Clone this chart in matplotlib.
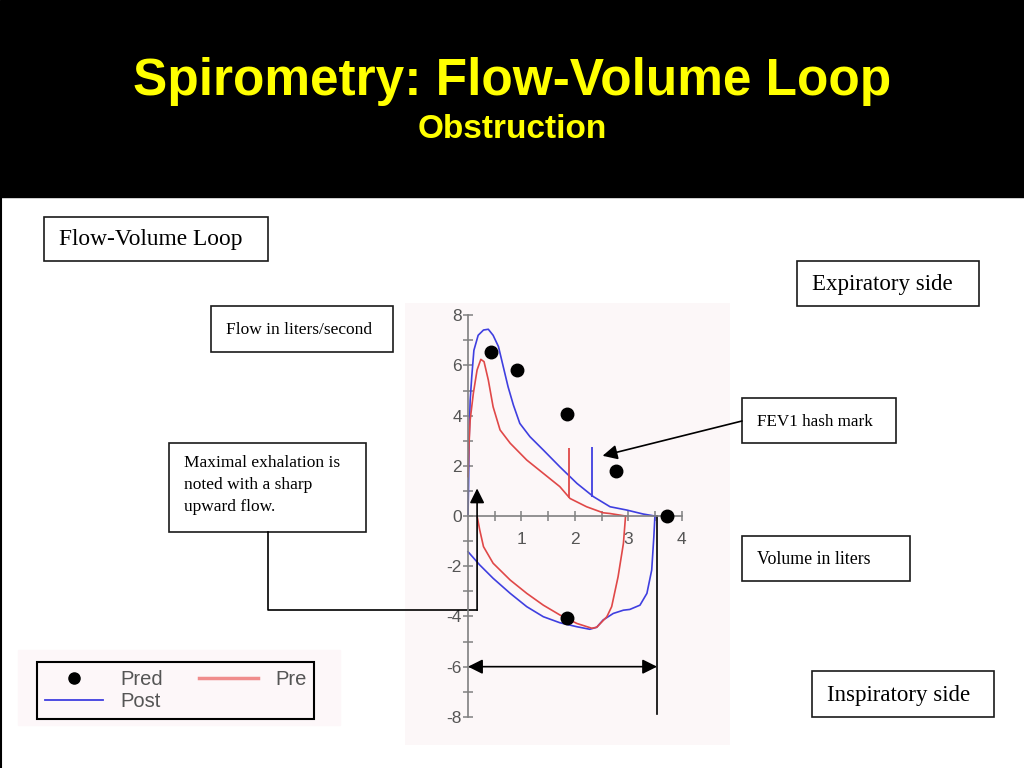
import matplotlib
matplotlib.use('Agg')
import matplotlib.pyplot as plt
from matplotlib.patches import Rectangle
from matplotlib.lines import Line2D

plt.rcParams['axes.unicode_minus'] = False
plt.rcParams['font.family'] = ['Liberation Sans', 'DejaVu Sans']

# ---- data (volume in L, flow in L/s) ----
post_exp_vol = [0, 0.01, 0.02, 0.04, 0.07, 0.11, 0.19, 0.29, 0.38, 0.47, 0.57, 0.66, 0.75, 0.85, 0.97,
                1.16, 1.41, 1.72, 2.04, 2.35, 2.66, 2.97, 3.28, 3.5]
post_exp_flow = [0, 1.2, 3.0, 4.6, 5.55, 6.6, 7.2, 7.41, 7.44, 7.2, 6.75, 5.95, 5.15, 4.42, 3.69,
                 3.16, 2.63, 1.96, 1.3, 0.77, 0.37, 0.24, 0.08, 0]
post_insp_vol = [3.5, 3.48, 3.44, 3.35, 3.22, 3.03, 2.91, 2.72, 2.53, 2.41, 2.28, 2.04, 1.72, 1.41,
                 1.1, 0.79, 0.47, 0.22, 0]
post_insp_flow = [0, -0.82, -2.15, -3.08, -3.55, -3.72, -3.75, -3.88, -4.14, -4.43, -4.51, -4.41,
                  -4.25, -4.01, -3.61, -3.08, -2.48, -1.95, -1.42]

pre_exp_vol = [0, 0.02, 0.04, 0.1, 0.17, 0.24, 0.3, 0.38, 0.47, 0.6, 0.79, 1.1, 1.41, 1.72, 1.91,
               2.22, 2.53, 2.66, 2.95]
pre_exp_flow = [1.57, 2.9, 3.82, 4.89, 5.82, 6.24, 6.15, 5.42, 4.35, 3.43, 2.9, 2.23, 1.7, 1.17, 0.7,
                0.37, 0.13, 0.1, 0]
pre_insp_vol = [2.95, 2.91, 2.81, 2.69, 2.6, 2.41, 2.32, 2.04, 1.72, 1.41, 1.1, 0.79, 0.47, 0.29,
                0.22, 0.17]
pre_insp_flow = [0, -1.09, -2.42, -3.61, -4.01, -4.43, -4.47, -4.28, -3.94, -3.55, -3.08, -2.55,
                 -1.88, -1.22, -0.56, 0]

pred_vol = [0.43, 0.91, 1.85, 2.78, 3.72, 1.85]
pred_flow = [6.55, 5.82, 4.06, 1.8, 0, -4.08]

fev1_vol = [1.9, 2.33]           # pre, post hash marks
fev1_low = [0.7, 0.77]
fev1_high = [2.7, 2.76]
fvc = 3.54
exhale_x = 0.17

y_ticks = list(range(-8, 9, 2))
x_ticks = [1, 2, 3, 4]

blue = '#3f3fe0'
red = '#e04848'
grey = '#808080'

fig = plt.figure(figsize=(10.24, 7.68), dpi=100)
fig.patch.set_facecolor('white')

# ---- overlay in pixel coordinates for the slide decoration ----
ov = fig.add_axes([0, 0, 1, 1], zorder=0)
ov.set_xlim(0, 1024)
ov.set_ylim(768, 0)
ov.axis('off')
ov.add_patch(Rectangle((0, 0), 1024, 197, color='black'))
ov.plot([1, 1], [197, 768], color='black', lw=1.5)
ov.text(512, 81, 'Spirometry: Flow-Volume Loop', ha='center', va='center',
        color='#ffff00', fontsize=37, fontweight='bold')
ov.text(512, 130, 'Obstruction', ha='center', va='center',
        color='#ffff00', fontsize=24, fontweight='bold')
ov.add_patch(Rectangle((18, 650), 322, 75, color='#fdf7f9'))


def box(x0, y0, x1, y1, text, size, top=False):
    ov.add_patch(Rectangle((x0, y0), x1 - x0, y1 - y0, facecolor='white',
                           edgecolor='#1a1a1a', lw=1.2))
    if top:
        ov.text(x0 + 15, y0 + 12, text, ha='left', va='top', fontsize=size,
                family='Liberation Serif', linespacing=1.5)
    else:
        ov.text(x0 + 15, (y0 + y1) / 2 + 1, text, ha='left', va='center',
                fontsize=size, family='Liberation Serif')


box(44, 217, 268, 261, 'Flow-Volume Loop', 16.8)
box(211, 306, 393, 352, 'Flow in liters/second', 12.5)
box(169, 443, 366, 532, 'Maximal exhalation is\nnoted with a sharp\nupward flow.', 12.5, top=True)
box(797, 261, 979, 306, 'Expiratory side', 16.5)
box(742, 398, 896, 443, 'FEV1 hash mark', 12.3)
box(742, 536, 910, 581, 'Volume in liters', 12.8)
box(812, 671, 994, 717, 'Inspiratory side', 16.5)
box(533, 687, 603, 732, 'FVC', 12.5)

# ---- the flow-volume plot ----
ax = fig.add_axes([405 / 1024, 23 / 768, 325 / 1024, 442 / 768], zorder=1)
ax.set_facecolor('#fcf7f8')
ax.set_xlim(-1.18, 4.906)
ax.set_ylim(-9.12, 8.486)
for s in ['top', 'right']:
    ax.spines[s].set_visible(False)
ax.spines['left'].set_position(('data', 0))
ax.spines['left'].set_bounds(-8, 8)
ax.spines['bottom'].set_position(('data', 0))
ax.spines['bottom'].set_bounds(0, 4)
for s in ['left', 'bottom']:
    ax.spines[s].set_color(grey)
    ax.spines[s].set_linewidth(1.2)

ax.set_yticks(y_ticks)
ax.set_yticklabels([str(v) for v in y_ticks])
ax.set_yticks(range(-8, 9), minor=True)
ax.set_xticks(x_ticks)
ax.set_xticklabels([str(v) for v in x_ticks])
ax.set_xticks([0.5, 1.5, 2.5, 3.5], minor=True)
ax.tick_params(which='both', direction='inout', length=7, width=1.1, color=grey,
               labelcolor='#555555', labelsize=12.5)
ax.tick_params(axis='y', pad=1)
ax.tick_params(axis='x', pad=8)

ax.plot(post_exp_vol, post_exp_flow, color=blue, lw=1.2)
ax.plot(post_insp_vol, post_insp_flow, color=blue, lw=1.2)
ax.plot(pre_exp_vol, pre_exp_flow, color=red, lw=1.2)
ax.plot(pre_insp_vol, pre_insp_flow, color=red, lw=1.2)
ax.vlines(fev1_vol, fev1_low, fev1_high, colors=[red, blue], lw=1.3)
ax.plot(pred_vol, pred_flow, 'o', color='black', ms=9, clip_on=False, zorder=5)

# ---- annotation arrows ----
arrow = dict(arrowstyle='-|>', color='black', lw=1.2, mutation_scale=22, shrinkA=0, shrinkB=0)
ax.annotate('', xy=(fvc, -6), xytext=(0, -6),
            arrowprops=dict(arrow, arrowstyle='<|-|>'))
ax.plot([fvc, fvc], [0, -7.9], color='black', lw=1.2)

bx, by = ax.transData.inverted().transform(ov.transData.transform((268, 532)))
ax.plot([bx, bx, exhale_x], [by, -3.75, -3.75], color='black', lw=1.2, clip_on=False)
ax.annotate('', xy=(exhale_x, 1.1), xytext=(exhale_x, -3.75), arrowprops=arrow)

ax.annotate('', xy=(2.52, 2.4), xytext=(742, 421), textcoords=ov.transData,
            arrowprops=arrow, annotation_clip=False)

# ---- legend ----
handles = [Line2D([], [], ls='none', marker='o', color='black', ms=8),
           Line2D([], [], color=blue, lw=1.3),
           Line2D([], [], color='#f08c8c', lw=2.5)]
leg = ax.legend(handles, ['Pred', 'Post', 'Pre'], ncol=2, loc='upper left',
                bbox_to_anchor=(37, 662), bbox_transform=ov.transData, borderaxespad=0,
                fontsize=14.5, handlelength=2.9, handletextpad=0.85, columnspacing=1.8,
                labelspacing=0.15, borderpad=0.4, fancybox=False, framealpha=1,
                facecolor='#fdf7f9', edgecolor='black', labelcolor='#555555')
leg.get_frame().set_linewidth(1.5)

fig.savefig('out.png', dpi=100)
